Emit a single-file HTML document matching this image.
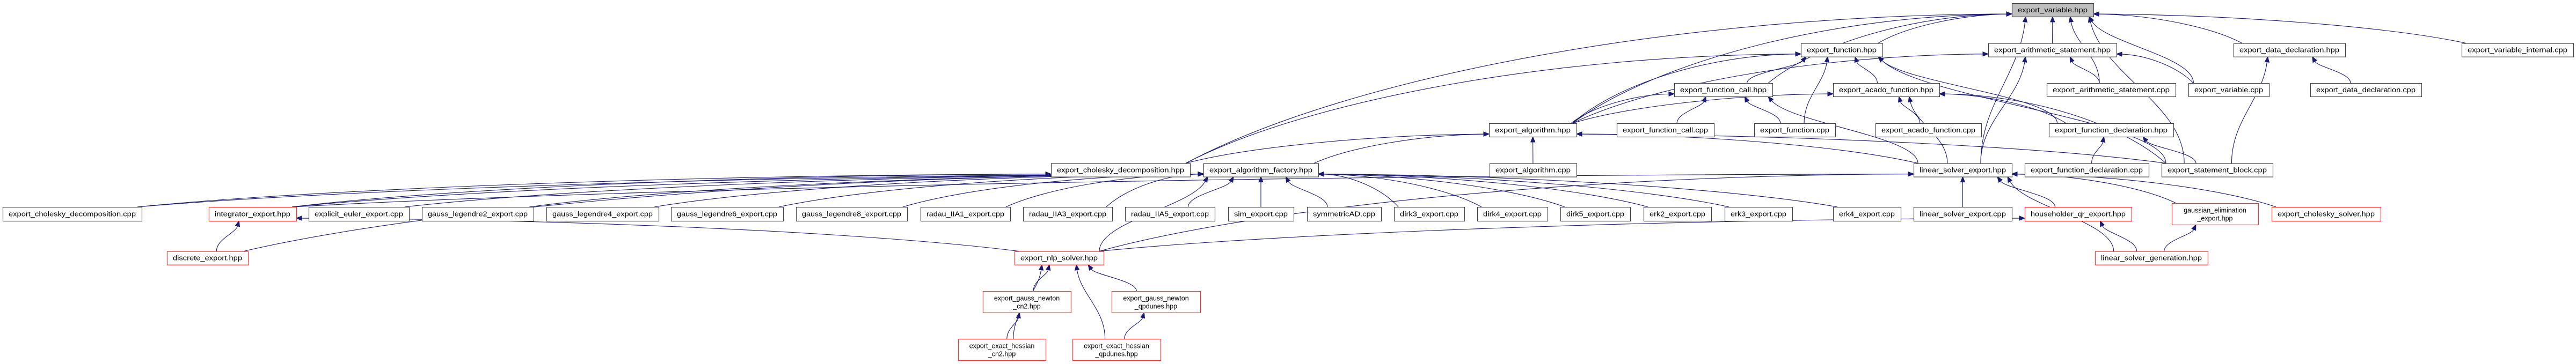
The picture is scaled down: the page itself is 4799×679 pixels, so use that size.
<!DOCTYPE html>
<html><head><meta charset="utf-8"><style>
html,body{margin:0;padding:0;background:#fff;}
svg{display:block;}
text{font-family:"Liberation Sans","DejaVu Sans",sans-serif;font-size:12.5px;fill:#000;}
</style></head><body>
<svg id="g" xmlns="http://www.w3.org/2000/svg" width="4799" height="679" viewBox="0 0 4799 679">
<rect width="4799" height="679" fill="#fff"/>
<g id="edges" fill="none" stroke="#191970" stroke-width="1.1"></g>
<g id="arrows" fill="#191970" stroke="#191970"></g>
<g id="nodes"></g>
</svg>
<script>
var R=[[6,31],[80.5,105.7],[155,180],[230,255],[304.5,329.6],[386,412],[468.6,493.7],[543,583],[632,672]];
var N={
V:["export_variable.hpp",3748,3900,0,"g"],
F:["export_function.hpp",3355,3507,1],
AS:["export_arithmetic_statement.hpp",3704,3943,1],
DD:["export_data_declaration.hpp",4161,4369,1],
VI:["export_variable_internal.cpp",4586,4794,1],
FCH:["export_function_call.hpp",3119,3302,2],
AF:["export_acado_function.hpp",3415,3613,2],
ASC:["export_arithmetic_statement.cpp",3813,4053,2],
VC:["export_variable.cpp",4077,4227,2],
DDC:["export_data_declaration.cpp",4304,4511,2],
AH:["export_algorithm.hpp",2774,2937,3],
FCC:["export_function_call.cpp",3012,3193,3],
FC:["export_function.cpp",3268,3419,3],
AFC:["export_acado_function.cpp",3494,3691,3],
FD:["export_function_declaration.hpp",3817,4049,3],
CDH:["export_cholesky_decomposition.hpp",1958,2217,4],
AFY:["export_algorithm_factory.hpp",2242,2456,4],
AC:["export_algorithm.cpp",2775,2937,4],
LS:["linear_solver_export.hpp",3565,3748,4],
FDC:["export_function_declaration.cpp",3772,4003,4],
SB:["export_statement_block.cpp",4027,4234,4],
CDC:["export_cholesky_decomposition.cpp",5,264,5],
IE:["integrator_export.hpp",389,552,5,"r"],
EE:["explicit_euler_export.cpp",575,762,5],
G2:["gauss_legendre2_export.cpp",786,994,5],
G4:["gauss_legendre4_export.cpp",1018,1227,5],
G6:["gauss_legendre6_export.cpp",1250,1459,5],
G8:["gauss_legendre8_export.cpp",1483,1690,5],
R1:["radau_IIA1_export.cpp",1715,1882,5],
R3:["radau_IIA3_export.cpp",1906,2072,5],
R5:["radau_IIA5_export.cpp",2096,2263,5],
SIM:["sim_export.cpp",2288,2410,5],
SAD:["symmetricAD.cpp",2435,2573,5],
D3:["dirk3_export.cpp",2597,2728,5],
D4:["dirk4_export.cpp",2752,2883,5],
D5:["dirk5_export.cpp",2907,3037,5],
E2:["erk2_export.cpp",3062,3188,5],
E3:["erk3_export.cpp",3213,3339,5],
E4:["erk4_export.cpp",3415,3541,5],
LSC:["linear_solver_export.cpp",3565,3748,5],
HQ:["householder_qr_export.hpp",3772,3971,5,"r"],
GE:["gaussian_elimination|_export.hpp",4046,4207,-1,"r"],
CS:["export_cholesky_solver.hpp",4232,4435,5,"r"],
DE:["discrete_export.hpp",311,462,6,"r"],
NLP:["export_nlp_solver.hpp",1890,2056,6,"r"],
LG:["linear_solver_generation.hpp",3903,4113,6,"r"],
GN2:["export_gauss_newton|_cn2.hpp",1831,1995,7,"r"],
GNQ:["export_gauss_newton|_qpdunes.hpp",2071,2236,7,"r"],
EH2:["export_exact_hessian|_cn2.hpp",1785,1948,8,"r"],
EHQ:["export_exact_hessian|_qpdunes.hpp",1998,2162,8,"r"]
};
function box(k){var n=N[k];var y0,y1;if(n[3]<0){y0=379;y1=419;}else{y0=R[n[3]][0];y1=R[n[3]][1];}return {x0:n[1],x1:n[2],y0:y0,y1:y1,cx:(n[1]+n[2])/2};}
var E=[
["F","V"],["AS","V"],["DD","V"],["VI","V"],["VC","V"],["SB","V"],["AH","V"],["FCH","V"],["CDH","V"],["LS","V"],["ASC","V"],
["FCH","F"],["FC","F"],["AF","F"],["FD","F"],["SB","F"],["AH","F"],["CDH","F"],
["ASC","AS"],["LS","AS"],["VC","AS"],["AH","AS"],
["DDC","DD"],["SB","DD"],
["FCC","FCH"],["FC","FCH"],["AH","FCH"],["LS","FCH"],
["AFC","AF"],["FD","AF"],["AH","AF"],["LS","AF"],["SB","AF"],
["FDC","FD"],["SB","FD"],
["AC","AH"],["AFY","AH"],["LS","AH"],["CDH","AH"],["SB","AH"],
["CDC","AFY"],["IE","AFY"],["EE","AFY"],["G2","AFY"],["G4","AFY"],["G6","AFY"],["G8","AFY"],["R1","AFY"],["R3","AFY"],["R5","AFY"],["SIM","AFY"],["SAD","AFY"],["D3","AFY"],["D4","AFY"],["D5","AFY"],["E2","AFY"],["E3","AFY"],["E4","AFY"],["NLP","AFY"],["DE","AFY"],
["CDC","CDH"],["IE","CDH"],
["LSC","LS"],["HQ","LS"],["GE","LS"],["CS","LS"],["LG","LS"],["IE","LS"],["NLP","LS"],
["DE","IE"],["NLP","IE"],["LG","HQ"],["NLP","HQ"],["LG","GE"],
["GN2","NLP"],["GNQ","NLP"],["EH2","NLP"],["EHQ","NLP"],["EH2","GN2"],["EHQ","GNQ"]
];
var ns="http://www.w3.org/2000/svg";
var eg=document.getElementById("edges"),ag=document.getElementById("arrows"),ng=document.getElementById("nodes");
E.forEach(function(e){
 var c=box(e[0]),p=box(e[1]);
 var sx,sy,ex,ey,c1x,c1y,c2x,c2y;
 if(c.y0>p.y1+2){
  var dy=c.y0-p.y1;
  var far=Math.abs(c.cx-p.cx)>3.5*dy+(p.x1-p.x0)/2;
  sx=Math.max(c.x0+8,Math.min(c.x1-8,c.cx+(p.cx-c.cx)*0.2));
  sy=c.y0;
  if(far){
   if(c.cx<p.cx){ex=p.x0;}else{ex=p.x1;}
   ey=p.y1-5;
   c1x=sx+(ex-sx)*0.2;c1y=sy-dy*0.6;c2x=ex-(ex-sx)*0.4;c2y=ey+2;
  } else {
   var rel=(c.cx-p.cx);var w=(p.x1-p.x0)/2-8;
   ex=p.cx+Math.max(-w,Math.min(w,rel*0.3));
   ey=p.y1;
   c1x=sx;c1y=sy-dy*0.4;c2x=ex+(sx-ex)*0.15;c2y=ey+dy*0.4;
  }
 } else {
  sy=(c.y0+c.y1)/2; ey=(p.y0+p.y1)/2;
  if(c.cx<p.cx){sx=c.x1;ex=p.x0;}else{sx=c.x0;ex=p.x1;}
  if(c.y0<p.y0){sy=c.y1;}
  c1x=sx+(ex-sx)*0.4;c1y=sy;c2x=ex-(ex-sx)*0.3;c2y=ey;
 }
 var dx=ex-c2x,ddy=ey-c2y,L=Math.sqrt(dx*dx+ddy*ddy)||1;dx/=L;ddy/=L;
 var bx=ex-dx*10,by=ey-ddy*10;
 var path=document.createElementNS(ns,"path");
 path.setAttribute("d","M"+sx+","+sy+" C"+c1x+","+c1y+" "+c2x+","+c2y+" "+bx+","+by);
 eg.appendChild(path);
 var a=document.createElementNS(ns,"polygon");
 var px=-ddy,py=dx;
 a.setAttribute("points",ex+","+ey+" "+(bx+px*4)+","+(by+py*4)+" "+(bx-px*4)+","+(by-py*4));
 ag.appendChild(a);
});
Object.keys(N).forEach(function(k){
 var n=N[k],b=box(k);
 var r=document.createElementNS(ns,"rect");
 r.setAttribute("x",b.x0+0.5);r.setAttribute("y",b.y0+0.5);
 r.setAttribute("width",b.x1-b.x0);r.setAttribute("height",b.y1-b.y0);
 r.setAttribute("fill",n[4]=="g"?"#bfbfbf":"#fff");
 r.setAttribute("stroke",n[4]=="r"?"#ff3030":"#404040");r.setAttribute("stroke-width","1.2");
 ng.appendChild(r);
 var lines=n[0].split("|");
 var cy=(b.y0+b.y1)/2;
 lines.forEach(function(s,i){
  var t=document.createElementNS(ns,"text");
  var y=lines.length==1?cy+4.5:cy-2.5+i*15;
  t.setAttribute("x",b.cx);t.setAttribute("y",y);t.setAttribute("text-anchor","middle");
  var w=b.x1-b.x0-22;
  if(lines.length==1){t.setAttribute("textLength",w);t.setAttribute("lengthAdjust","spacingAndGlyphs");}
  t.textContent=s;ng.appendChild(t);
 });
});
</script>
</body></html>
